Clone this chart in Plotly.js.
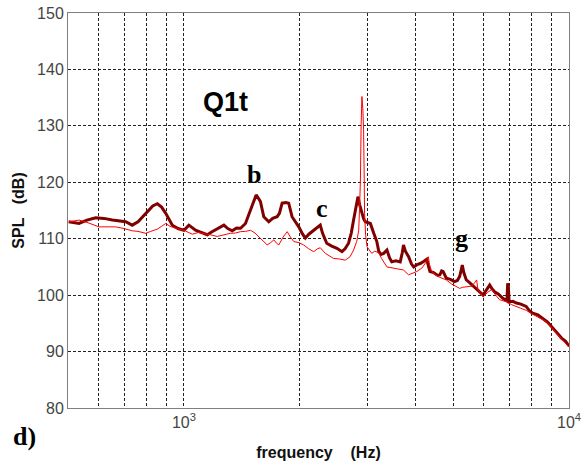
<!DOCTYPE html>
<html>
<head>
<meta charset="utf-8">
<script src="https://cdn.plot.ly/plotly-3.0.1.min.js"></script>
<style>html,body{margin:0;padding:0;background:#fff;}#chart{width:584px;height:467px;}</style>
</head>
<body>
<div id="chart"></div>
<script>
// Thick dark-red curve
const freqDark = [502,520,534,560,590,620,652,706,734,760,796,830,853,875,897,915,933,965,1000,1030,1050,1072,1100,1150,1180,1208,1240,1270,1300,1335,1370,1403,1445,1489,1520,1540,1560,1580,1612,1661,1700,1746,1770,1799,1840,1871,1909,1950,1987,2030,2067,2110,2151,2200,2240,2260,2290,2349,2420,2497,2573,2620,2676,2720,2758,2800,2831,2860,2899,2930,2958,3000,3049,3110,3169,3205,3250,3301,3367,3420,3465,3550,3645,3690,3717,3760,3832,3900,3951,4030,4109,4200,4272,4320,4355,4450,4560,4620,4670,4710,4760,4801,4920,5043,5130,5200,5250,5283,5330,5411,5500,5600,5756,5880,5985,6100,6224,6300,6407,6550,6747,6900,6930,6960,6989,7150,7304,7500,7739,7900,8050,8300,8555,8800,9098,9300,9578,9800,10000];
const splDark = [113.0,112.8,112.7,113.3,113.7,113.6,113.3,113.0,112.4,113.0,114.5,115.8,116.2,115.6,114.5,113.3,112.4,111.8,111.5,112.4,112.0,111.5,111.2,110.7,111.2,111.6,112.0,112.4,111.8,111.4,111.9,111.85,112.7,115.1,117.0,117.75,117.2,116.6,113.9,113.0,113.6,113.9,114.5,116.3,116.4,116.3,113.9,113.0,112.1,110.9,110.1,110.8,111.25,111.8,112.3,112.4,111.0,109.2,108.7,108.3,107.7,108.2,109.2,111.0,113.3,116.0,117.45,116.0,114.5,113.5,113.0,112.9,112.7,111.0,109.5,107.8,107.2,107.4,108.0,106.6,105.9,106.1,105.9,107.5,108.9,107.8,106.8,105.5,105.0,105.4,105.6,106.0,106.35,105.0,104.2,104.0,103.5,103.6,104.3,104.2,103.5,103.0,102.8,102.4,102.6,103.3,104.5,105.35,104.0,102.7,102.3,101.8,101.2,100.6,100.0,100.9,101.8,101.2,100.6,100.2,99.4,99.0,102.1,101.5,98.8,98.9,98.6,98.4,98.0,97.2,96.8,96.5,95.9,95.2,94.1,93.3,92.35,91.8,91.0];

// Thin bright-red curve
const freqRed = [502,534,560,602,640,665,700,734,760,796,820,853,875,897,920,952,1000,1051,1090,1127,1170,1220,1270,1321,1360,1403,1445,1489,1530,1564,1600,1645,1680,1712,1740,1764,1810,1854,1890,1929,1990,2046,2110,2173,2220,2260,2330,2400,2448,2540,2624,2700,2758,2810,2844,2860,2873,2885,2899,2915,2928,2940,2945,2965,2989,3030,3075,3130,3205,3260,3301,3367,3430,3505,3600,3717,3832,3930,4027,4150,4250,4313,4340,4400,4500,4600,4700,4801,4950,5100,5200,5300,5411,5600,5700,5756,5800,5985,6150,6300,6450,6600,6890,7100,7475,7750,8050,8400,8740,9100,9500,9750,10000];
const splRed = [113.0,113.3,112.9,112.1,112.1,112.1,111.8,111.4,111.3,110.96,111.3,111.7,112.2,112.7,112.2,111.85,111.5,110.8,111.1,110.96,110.7,110.4,110.7,110.96,111.0,111.25,111.3,111.5,111.0,110.4,109.6,108.9,109.3,109.8,109.2,108.9,110.3,111.25,110.3,109.5,109.3,108.9,108.2,107.7,108.2,108.4,107.4,106.8,106.5,106.4,106.2,106.8,108.0,109.5,111.5,116.0,120.4,130.0,135.2,133.0,129.3,120.0,114.5,110.5,108.6,108.0,107.4,107.8,107.5,106.5,106.0,105.0,104.9,104.75,104.6,104.45,103.6,103.9,104.2,104.8,105.8,106.8,105.5,104.2,103.6,103.2,103.0,102.7,102.0,101.6,101.2,101.4,101.5,101.6,102.3,102.7,101.0,99.7,100.5,101.0,100.0,99.2,98.8,98.3,97.7,97.3,96.6,96.0,95.3,93.9,92.35,91.6,90.8];

const xTickVals = [600,700,800,900,1000,2000,3000,4000,5000,6000,7000,8000,9000,10000];
const xTickText = ['','','','','10<sup>3</sup>','','','','','','','','','10<sup>4</sup>'];
const yTickVals = [80,90,100,110,120,130,140,150];

const sans = 'Arial, "Liberation Sans", sans-serif';
const serif = '"Times New Roman", "Liberation Serif", serif';

const traces = [
  {x: freqDark, y: splDark, type: 'scatter', mode: 'lines', line: {color: '#800000', width: 3}, hoverinfo: 'skip'},
  {x: freqRed, y: splRed, type: 'scatter', mode: 'lines', line: {color: '#ff0000', width: 1}, hoverinfo: 'skip'}
];

const grid = {showgrid: true, gridcolor: '#222', gridwidth: 1, griddash: '3px,2px'};

function label(text, x, y, family, size) {
  return {text: text, xref: 'paper', yref: 'paper', x: x, y: y, xanchor: 'center', yanchor: 'middle',
          showarrow: false, font: {family: family, size: size, color: '#000', weight: 'bold'}};
}

const layout = {
  width: 584, height: 467,
  margin: {l: 68, r: 15, t: 13, b: 59},
  paper_bgcolor: '#ffffff', plot_bgcolor: '#ffffff',
  showlegend: false,
  xaxis: Object.assign({
    type: 'log', range: [Math.log10(500), 4],
    tickmode: 'array', tickvals: xTickVals, ticktext: xTickText,
    showline: true, mirror: true, linecolor: '#7f7f7f', linewidth: 1,
    ticks: '', zeroline: false,
    tickfont: {family: sans, size: 16, color: '#444'},
    title: {text: 'frequency\u00a0\u00a0\u00a0\u00a0(Hz)', font: {family: sans, size: 16, color: '#111', weight: 'bold'}, standoff: 16},
    automargin: false
  }, grid),
  yaxis: Object.assign({
    range: [80, 150], tickmode: 'array', tickvals: yTickVals,
    showline: true, mirror: true, linecolor: '#7f7f7f', linewidth: 1,
    ticks: '', zeroline: false,
    tickfont: {family: sans, size: 16, color: '#444'},
    title: {text: 'SPL\u00a0\u00a0\u00a0(dB)', font: {family: sans, size: 16, color: '#111', weight: 'bold'}, standoff: 8},
    automargin: false
  }, grid),
  annotations: [
    label('Q1t', 0.315, 0.775, sans, 27),
    label('b', 0.371, 0.59, serif, 26),
    label('c', 0.506, 0.505, serif, 26),
    label('g', 0.785, 0.43, serif, 26),
    label('d)', -0.087, -0.073, serif, 26)
  ]
};

Plotly.newPlot('chart', traces, layout, {staticPlot: true, displayModeBar: false});
</script>
</body>
</html>
